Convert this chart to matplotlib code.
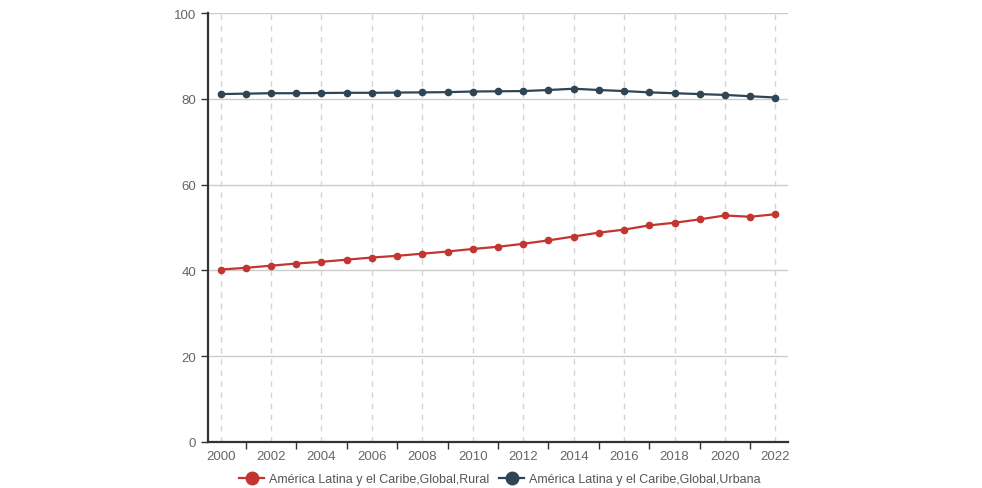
import matplotlib
matplotlib.use("Agg")
import matplotlib.pyplot as plt
from matplotlib.ticker import FixedLocator

years = list(range(2000, 2023))
rural = [40.2, 40.6, 41.1, 41.6, 42.0, 42.5, 43.0, 43.4, 43.9, 44.4, 45.0,
         45.5, 46.2, 47.0, 47.9, 48.8, 49.5, 50.5, 51.1, 51.9, 52.8, 52.5, 53.1]
urbana = [81.1, 81.2, 81.3, 81.3, 81.35, 81.4, 81.4, 81.45, 81.5, 81.55, 81.7,
          81.75, 81.8, 82.05, 82.35, 82.05, 81.8, 81.5, 81.3, 81.1, 80.9, 80.6, 80.3]
series_names = ["América Latina y el Caribe,Global,Rural",
                "América Latina y el Caribe,Global,Urbana"]
colors = ["#c23531", "#2f4554"]

plt.rcParams["font.family"] = ["Liberation Sans", "DejaVu Sans"]

fig = plt.figure(figsize=(9.82, 4.89), dpi=100)
ax = fig.add_axes([208 / 982, 46 / 489, 580 / 982, 429 / 489])

for vals, name, col in zip([rural, urbana], series_names, colors):
    ax.plot(years, vals, color=col, lw=1.6, marker="o", ms=4.5, label=name, zorder=3)

ax.set_xlim(1999.5, 2022.5)
ax.set_ylim(0, 100)
ax.set_yticks([0, 20, 40, 60, 80, 100])

# labels on even years, tick marks between them on odd years
even_years = [y for y in years if y % 2 == 0]
odd_years = [y for y in years if y % 2 == 1]
ax.xaxis.set_major_locator(FixedLocator(odd_years))
ax.xaxis.set_minor_locator(FixedLocator(even_years))
ax.set_xticklabels([], minor=False)
ax.set_xticklabels([str(y) for y in even_years], minor=True)
ax.tick_params(axis="x", which="major", length=5, width=1, color="#333333")
ax.tick_params(axis="x", which="minor", length=0, pad=6, labelsize=9.5, labelcolor="#666666")
ax.tick_params(axis="y", length=5, width=1, color="#333333", labelsize=9.5, labelcolor="#666666")

ax.grid(axis="y", color="#cccccc", lw=1)
for y in even_years:
    ax.axvline(y, color="#d4d4d4", lw=1, ls=(0, (4, 4)), zorder=1)

for s in ["top", "right"]:
    ax.spines[s].set_visible(False)
ax.spines["left"].set_color("#333333")
ax.spines["left"].set_linewidth(1.6)
ax.spines["bottom"].set_color("#333333")
ax.spines["bottom"].set_linewidth(1.6)
ax.set_axisbelow(True)

handles, labels = ax.get_legend_handles_labels()
leg = fig.legend(handles, labels, loc="center", bbox_to_anchor=(500 / 982, 1 - 480 / 489),
                 ncol=2, frameon=False, fontsize=9, handlelength=2.0, handletextpad=0.4,
                 columnspacing=0.8, markerscale=2.0)
for t in leg.get_texts():
    t.set_color("#555555")

fig.savefig("out.png", dpi=100)
